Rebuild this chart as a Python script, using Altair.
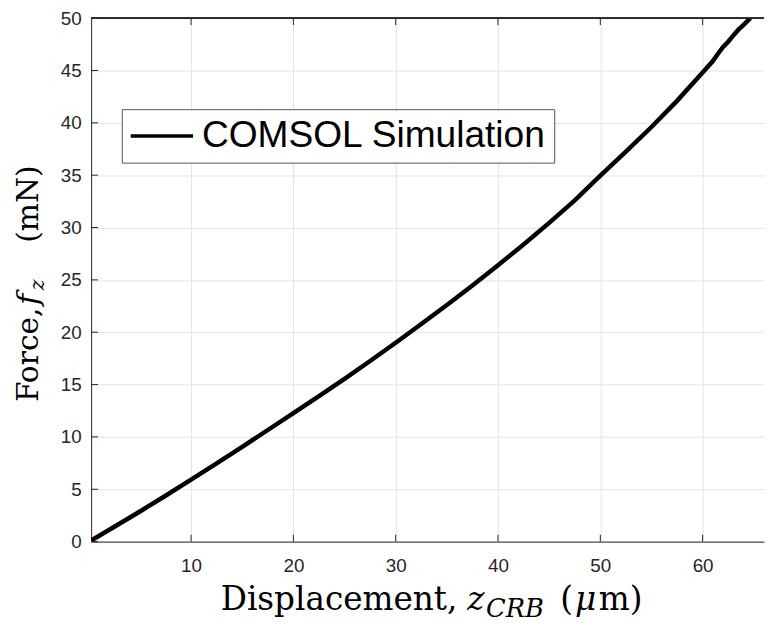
import altair as alt
import pandas as pd

# ---- data ----
disp = [0.23, 2.5, 5, 7.5, 10, 12.5, 15, 17.5, 20, 22.5, 25, 27.5, 30, 32.5, 35,
        37.5, 40, 42.5, 45, 47.5, 50, 52.5, 55, 57.5, 60, 61, 61.5, 62, 62.5,
        63, 63.5, 64, 64.67]
force = [0.1, 1.42, 2.88, 4.38, 5.92, 7.48, 9.06, 10.66, 12.28, 13.9, 15.55, 17.25,
         19.0, 20.78, 22.6, 24.47, 26.4, 28.38, 30.45, 32.6, 34.95, 37.25, 39.6,
         42.1, 44.8, 45.9, 46.6, 47.25, 47.75, 48.35, 48.9, 49.35, 50.0]
series_name = "COMSOL Simulation"
x_ticks = [10, 20, 30, 40, 50, 60]
y_ticks = [0, 5, 10, 15, 20, 25, 30, 35, 40, 45, 50]

df = pd.DataFrame({"disp": disp, "force": force, "series": series_name})
xt = pd.DataFrame({"disp": x_ticks})
yt = pd.DataFrame({"force": y_ticks})

W, H = 680, 529
XDOM = [0.23, 66.0]
YDOM = [0, 50]
AX = "#262626"
xs = alt.Scale(domain=XDOM, nice=False, zero=False)
ys = alt.Scale(domain=YDOM, nice=False, zero=False)

line = alt.Chart(df).mark_line(strokeWidth=4.5, clip=True).encode(
    x=alt.X("disp:Q", scale=xs, title=None,
            axis=alt.Axis(values=x_ticks, grid=True, tickSize=0, labelPadding=15,
                          labelFontSize=19, labelFont="Liberation Sans",
                          labelColor=AX, domainColor=AX, gridColor="#e4e4e4")),
    y=alt.Y("force:Q", scale=ys, title=None,
            axis=alt.Axis(values=y_ticks, grid=True, tickSize=0, labelPadding=10,
                          labelFontSize=19, labelFont="Liberation Sans",
                          labelColor=AX, domainColor=AX, gridColor="#e4e4e4")),
    color=alt.Color("series:N", scale=alt.Scale(domain=[series_name], range=["black"]),
                    legend=alt.Legend(title=None, orient="none", legendX=31, legendY=92,
                                      padding=7, symbolType="stroke", symbolSize=3969,
                                      symbolStrokeWidth=3.5, symbolStrokeColor="black",
                                      labelFontSize=37.5, labelFont="Liberation Sans",
                                      labelColor="black", labelOffset=7, clipHeight=40,
                                      labelLimit=800,
                                      strokeColor="#555555", fillColor="white")),
    order=alt.Order("disp:Q"),
)

# inward tick marks and top frame line
xb = alt.Chart(xt).mark_rule(color=AX, strokeWidth=1).encode(
    x=alt.X("disp:Q", scale=xs), y=alt.value(H - 7), y2=alt.value(H))
xtop = alt.Chart(xt).mark_rule(color=AX, strokeWidth=1).encode(
    x=alt.X("disp:Q", scale=xs), y=alt.value(0), y2=alt.value(7))
yl = alt.Chart(yt).mark_rule(color=AX, strokeWidth=1).encode(
    y=alt.Y("force:Q", scale=ys), x=alt.value(0), x2=alt.value(7))
top = alt.Chart(xt).mark_rule(color=AX, strokeWidth=1).encode(
    x=alt.value(0), x2=alt.value(W), y=alt.value(0))

one = alt.Data(values=[{"a": 1}])


def txt(s, x, y, size, style="normal", angle=0):
    return alt.Chart(one).mark_text(text=s, font="DejaVu Serif", fontSize=size,
                                    fontStyle=style, align="left",
                                    baseline="alphabetic", angle=angle,
                                    color="black").encode(x=alt.value(x), y=alt.value(y))


titles = [
    txt("Displacement,", 131, 598, 33),
    txt("z", 380, 598, 33, "italic"),
    txt("CRB", 399, 605, 26, "italic"),
    txt("(", 474, 598, 33),
    txt("μ", 489, 598, 33, "italic"),
    txt("m)", 513, 598, 33),
    txt("Force,", -54, 388, 30, angle=270),
    txt("f", -54, 290, 31, "italic", angle=270),
    txt("z", -48, 275, 21, "italic", angle=270),
    txt("(mN)", -54, 227, 30, angle=270),
]

chart = alt.layer(line, xb, xtop, yl, top, *titles).properties(
    width=W, height=H,
    autosize=alt.AutoSizeParams(type="none"),
    padding={"left": 84, "top": 7, "right": 1, "bottom": 80},
).configure_view(stroke=None).configure_axis(domainWidth=1)

chart.save("out.html", embed_options={"renderer": "svg", "actions": False})
